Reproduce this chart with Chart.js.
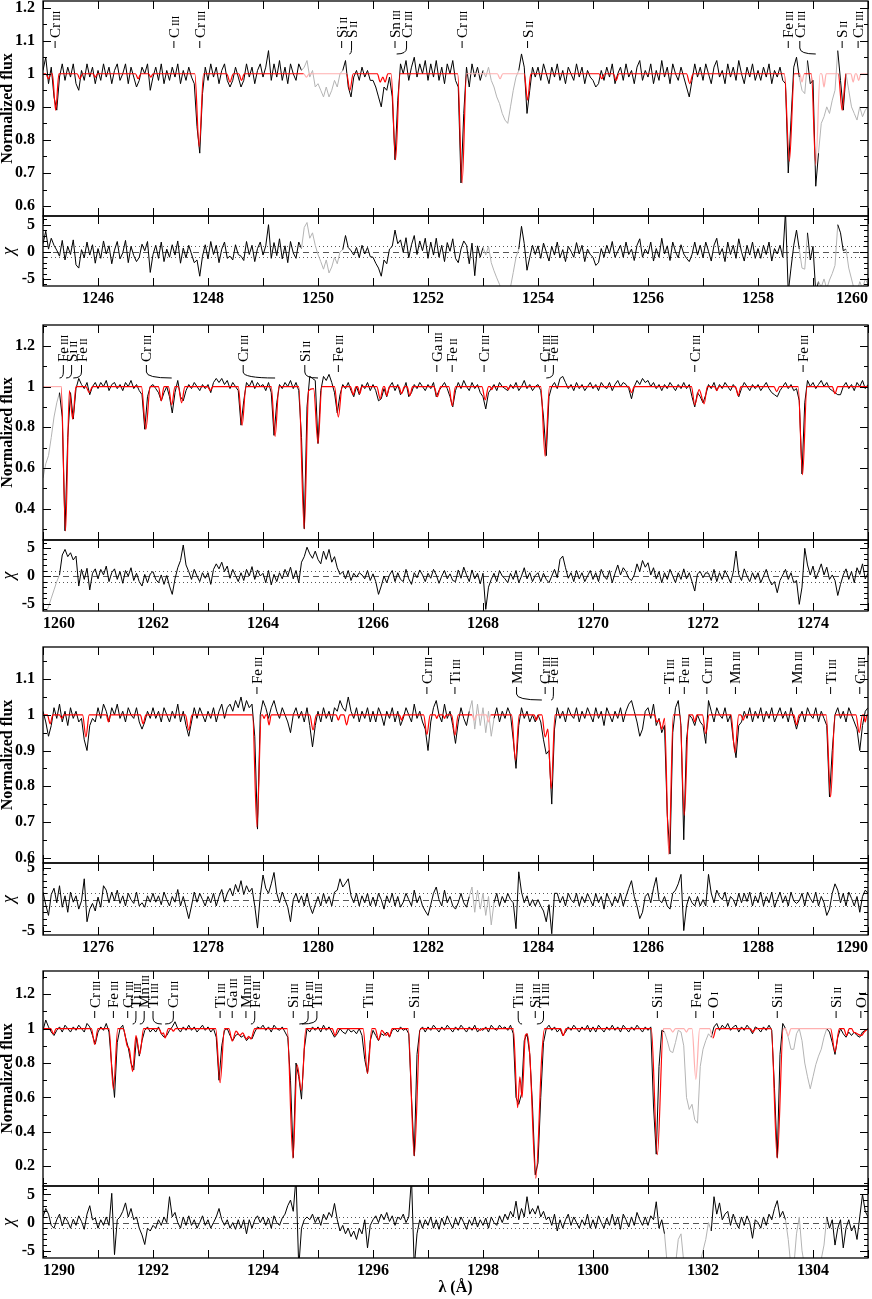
<!DOCTYPE html>
<html>
<head>
<meta charset="utf-8">
<script src="https://cdn.jsdelivr.net/npm/chart.js@4.4.1/dist/chart.umd.min.js"></script>
<style>
  html, body { margin: 0; padding: 0; background: #fff; }
  #page { position: relative; width: 872px; height: 1299px; overflow: hidden; background: #fff; }
  canvas { position: absolute; left: 0; }
</style>
</head>
<body>
<div id="page"></div>
<script>
// wavelength grid of the observed spectrum and residuals (Angstrom)
const gridStep = 0.05;

// ---------- panel 1 : 1245 - 1260 ----------
const p1Range = [1245, 1260];
const p1Flux = [
  1.01, 1.05, 0.97, 1.02, 0.93, 0.89, 0.99, 1.03, 0.98, 1.02, 0.99, 1.03, 0.97, 0.95, 1.01, 0.98, 1.03, 0.99, 1.02, 0.97,
  1.01, 0.98, 1.03, 0.99, 1.02, 0.97, 1.01, 1.03, 0.98, 1.00, 1.03, 0.97, 1.02, 0.99, 0.96, 0.98, 1.02, 1.00, 1.03, 0.95,
  0.99, 1.02, 0.98, 1.03, 0.97, 1.01, 0.98, 1.02, 0.99, 1.03, 0.97, 1.01, 0.98, 1.02, 0.99, 0.97, 0.84, 0.76, 0.94, 1.02,
  0.98, 1.03, 0.99, 1.02, 0.97, 1.01, 1.03, 0.98, 0.96, 0.98, 1.02, 0.99, 0.96, 0.98, 1.03, 0.99, 1.02, 0.97, 1.01, 1.03,
  0.99, 1.02, 1.07, 0.98, 1.03, 0.99, 1.04, 0.98, 1.02, 0.97, 1.03, 1.00, 0.98, 1.03, 1.01, 1.02, 1.04, 0.99, 1.01, 0.96,
  0.97, 0.95, 0.93, 0.96, 0.93, 0.95, 0.98, 0.96, 1.00, 1.01, 1.04, 0.96, 0.93, 0.99, 1.01, 0.98, 1.02, 0.99, 1.01, 0.98,
  0.98, 0.96, 0.93, 0.90, 0.96, 0.95, 0.99, 0.93, 0.74, 0.92, 1.03, 1.00, 1.04, 0.98, 1.02, 1.05, 0.99, 1.03, 1.00, 1.04,
  0.98, 1.03, 0.99, 1.04, 0.98, 1.02, 0.97, 1.03, 1.00, 1.04, 0.98, 0.96, 0.67, 0.88, 1.02, 0.96, 1.03, 0.99, 1.02, 0.98,
  1.01, 0.99, 1.02, 0.98, 0.96, 0.93, 0.91, 0.88, 0.86, 0.85, 0.90, 0.95, 0.99, 1.01, 1.06, 1.02, 0.88, 0.95, 1.02, 0.99,
  1.02, 0.98, 1.03, 1.00, 0.97, 1.02, 0.99, 1.03, 0.98, 1.01, 0.97, 1.02, 1.00, 0.98, 1.03, 0.99, 1.02, 0.97, 1.01, 0.99,
  0.98, 0.96, 0.97, 1.01, 0.98, 1.02, 0.99, 1.03, 0.97, 1.00, 1.02, 0.98, 1.03, 0.99, 1.01, 0.97, 1.02, 1.04, 0.98, 1.01,
  0.99, 1.03, 0.97, 1.01, 0.98, 1.04, 0.99, 1.02, 0.97, 1.03, 1.00, 0.98, 1.02, 0.99, 0.96, 0.93, 0.98, 1.03, 0.99, 1.02,
  0.98, 1.03, 1.00, 0.97, 1.02, 1.04, 0.99, 1.01, 0.97, 1.03, 0.99, 1.02, 0.98, 1.04, 1.00, 0.97, 1.02, 0.99, 1.03, 0.98,
  1.01, 0.98, 1.02, 0.99, 1.03, 0.97, 1.01, 0.99, 1.02, 0.98, 0.97, 0.70, 0.86, 1.02, 1.05, 0.99, 0.95, 0.94, 1.04, 0.97,
  0.98, 0.66, 0.76, 0.85, 0.87, 0.90, 0.88, 0.92, 0.95, 1.07, 0.98, 0.89, 1.00, 0.95, 0.90, 0.88, 0.86, 0.90, 0.87, 0.89,
  0.90
];
const p1Chi = [
  1.5, 3.8, 0.5, 2.5, 1.2, 0.3, -0.8, 2.1, -1.5, 1.0, -0.5, 2.2, -2.4, -3.0, 0.4, -1.1, 1.8, -0.6, 1.3, -2.1,
  0.6, -1.2, 2.0, -0.4, 1.1, -2.2, 0.3, 1.9, -1.3, -0.2, 2.1, -2.0, 1.0, -0.7, -1.8, -1.0, 1.4, 0.2, 1.9, -3.8,
  -0.5, 1.2, -1.2, 1.8, -1.8, 0.5, -1.0, 1.3, -0.6, 2.0, -2.1, 0.7, -1.1, 1.2, -0.4, -2.0, -1.5, -4.5, -0.8, 1.3,
  -1.3, 1.9, -0.5, 1.2, -2.0, 0.5, 1.8, -1.2, -0.8, -1.5, 1.3, -0.5, -0.8, -1.6, 1.9, -0.5, 1.2, -1.8, 0.6, 1.8,
  -0.6, 1.1, 5.0, -1.2, 1.7, -0.7, 2.4, -1.3, 1.1, -2.0, 1.9, -0.2, -1.2, 1.8, 0.6, 4.5, 5.4, 2.5, 3.5, 1.2,
  -0.5, -1.8, -3.2, -1.5, -3.9, -2.8, -1.0, -2.2, 0.0, 0.4, 3.0, 0.8, 0.2, -0.6, 0.8, -1.1, 1.2, -0.4, 0.8, -0.9,
  -1.0, -2.1, -3.0, -4.5, -1.5, -2.2, 0.5, 1.0, 4.0, 1.5, 2.2, -0.1, 2.6, -1.1, 1.3, 3.0, -0.5, 2.0, 0.2, 2.5,
  -1.2, 1.8, -0.6, 2.5, -1.0, 1.2, -1.8, 1.7, 0.1, 2.4, -1.2, -2.0, 0.5, 2.0, 1.2, -2.2, 1.6, -4.4, 1.1, -1.0,
  0.8, -0.6, 1.0, -2.0, -3.5, -4.8, -6.0, -7.5, -8.0, -8.2, -6.5, -3.8, -1.0, 0.5, 4.7, 1.5, -3.4, -1.0, 1.2, -0.5,
  1.1, -1.2, 1.6, 0.0, -1.7, 1.0, -0.6, 1.8, -1.1, 0.4, -1.8, 1.0, 0.1, -1.0, 1.7, -0.4, 1.2, -1.8, 0.5, -0.5,
  -1.0, -2.5, -2.0, 0.6, -1.0, 1.2, -0.3, 1.9, -1.0, 0.1, 1.2, -1.0, 1.8, -0.5, 0.5, -1.6, 1.2, 2.4, -1.0, 0.5,
  -0.4, 1.8, -1.7, 0.6, -1.0, 2.5, -0.4, 1.1, -1.6, 1.8, 0.0, -1.1, 1.3, -0.4, -1.2, -1.8, -0.5, 1.8, -0.6, 1.2,
  -1.1, 1.8, 0.1, -1.7, 1.2, 2.5, -0.6, 0.6, -1.8, 1.8, -0.5, 1.2, -1.2, 2.4, 0.0, -1.7, 1.2, -0.6, 1.8, -1.2,
  0.6, -1.2, 1.2, -0.5, 1.8, -1.7, 0.6, -0.4, 1.2, -1.0, 7.5, -7.5, -3.0, 1.2, 4.0, 0.5, -3.0, -3.2, 3.5, -1.5,
  1.0, -7.5, -5.5, -6.5, -5.0, -6.8, -5.2, -4.0, -2.5, 5.0, 3.5, 0.2, 0.5, -3.0, -5.0, -7.0, -7.5, -5.5, -6.8, -5.0,
  -6.0
];
const p1Model = [
  [1245, 1], [1245.05, 1], [1245.1, 0.985], [1245.15, 1], [1245.17, 1], [1245.23, 0.89], [1245.29, 1],
  [1245.62, 1], [1245.67, 0.985], [1245.72, 1], [1245.91, 1], [1245.95, 0.99], [1245.99, 1],
  [1246.68, 1], [1246.73, 0.985], [1246.78, 1], [1246.92, 1], [1246.96, 0.99], [1247, 1],
  [1247.76, 1], [1247.84, 0.78], [1247.92, 1],
  [1248.34, 1], [1248.4, 0.975], [1248.46, 1], [1248.56, 1], [1248.61, 0.98], [1248.66, 1],
  [1249.74, 1], [1249.79, 0.99], [1249.84, 1],
  [1250.52, 1], [1250.58, 0.95], [1250.64, 1],
  [1251.08, 1], [1251.13, 0.975], [1251.18, 0.99], [1251.22, 0.975], [1251.27, 1],
  [1251.33, 1], [1251.41, 0.74], [1251.49, 1],
  [1252.54, 1], [1252.62, 0.67], [1252.7, 1],
  [1253.26, 1], [1253.31, 0.985], [1253.36, 1],
  [1253.75, 1], [1253.81, 0.92], [1253.87, 1],
  [1255.11, 1], [1255.16, 0.985], [1255.21, 1], [1255.37, 1], [1255.42, 0.98], [1255.47, 1],
  [1256.7, 1], [1256.76, 0.97], [1256.82, 1],
  [1258.48, 1], [1258.57, 0.735], [1258.66, 1],
  [1258.76, 1], [1258.8, 0.975], [1258.84, 1],
  [1258.97, 1], [1259.05, 0.724], [1259.13, 1],
  [1259.16, 1], [1259.2, 0.96], [1259.24, 1],
  [1259.46, 1], [1259.53, 0.89], [1259.6, 1],
  [1259.69, 1], [1259.73, 0.975], [1259.77, 1], [1259.79, 1], [1259.83, 0.98], [1259.87, 1], [1260, 1]
];
const p1Masks = [[1249.72, 1250.44], [1252.98, 1253.66], [1258.77, 1258.88], [1259.08, 1259.43], [1259.62, 1260]];
const p1Ions = [
  [1245.22, "Cr", "III"], [1247.38, "C", "III"], [1247.85, "Cr", "III"],
  [1250.43, "Si", "II"], [1250.61, "S", "II", 1250.57],
  [1251.4, "Sn", "III"], [1251.61, "Cr", "III", 1251.43],
  [1252.62, "Cr", "III"], [1253.81, "S", "II"],
  [1258.55, "Fe", "III"], [1258.76, "Cr", "III", 1259.05],
  [1259.53, "S", "II"], [1259.82, "Cr", "III"]
];
const p1FluxTicks = [0.6, 0.7, 0.8, 0.9, 1, 1.1, 1.2];
const p1XLabels = [1246, 1248, 1250, 1252, 1254, 1256, 1258, 1260];

// ---------- panel 2 : 1260 - 1275 ----------
const p2Range = [1260, 1275];
const p2Flux = [
  0.55, 0.62, 0.66, 0.75, 0.85, 0.92, 0.97, 0.85, 0.29, 0.75, 0.97, 0.84, 0.99, 1.04, 1.01, 0.99, 1.02, 0.96, 1.00, 1.02,
  0.99, 1.02, 1.00, 1.03, 0.98, 1.01, 1.02, 0.99, 1.01, 0.98, 1.02, 1.00, 1.03, 0.99, 1.01, 0.98, 0.96, 0.79, 0.95, 1.00,
  1.01, 0.99, 0.97, 0.93, 0.97, 1.00, 0.95, 0.87, 0.97, 1.03, 0.95, 0.93, 0.98, 1.01, 0.99, 1.02, 1.00, 0.98, 1.01, 0.99,
  1.01, 0.97, 1.02, 1.04, 1.02, 1.04, 1.01, 1.03, 0.99, 1.02, 1.00, 0.98, 0.81, 0.93, 1.02, 1.00, 1.03, 0.99, 1.02, 1.00,
  1.01, 0.98, 1.02, 0.97, 0.76, 0.92, 1.01, 0.99, 1.02, 1.00, 1.03, 0.99, 1.02, 0.98, 0.75, 0.30, 0.90, 1.05, 1.04, 1.03,
  0.72, 0.98, 1.05, 1.03, 1.06, 1.02, 0.97, 0.87, 0.96, 1.01, 0.99, 1.02, 0.98, 0.95, 1.00, 0.96, 1.01, 0.99, 1.02, 0.98,
  1.01, 0.98, 0.93, 0.94, 0.99, 0.95, 1.00, 1.02, 0.98, 1.01, 0.96, 0.98, 1.02, 0.95, 0.97, 1.01, 0.99, 1.02, 1.00, 0.98,
  1.01, 0.99, 1.02, 0.95, 0.98, 1.00, 1.02, 0.99, 0.95, 0.90, 0.98, 1.02, 0.99, 1.03, 1.00, 0.98, 1.02, 0.99, 1.01, 0.97,
  0.95, 0.89, 0.97, 0.99, 1.01, 0.98, 1.02, 1.00, 0.99, 0.98, 1.01, 0.99, 1.02, 0.98, 1.00, 1.03, 0.99, 1.01, 0.98, 1.00,
  1.01, 0.98, 0.85, 0.66, 0.95, 1.00, 1.02, 0.99, 1.04, 1.05, 1.02, 0.99, 1.01, 0.98, 1.02, 0.99, 1.01, 0.98, 1.00, 1.02,
  0.99, 1.01, 0.98, 1.02, 1.00, 0.99, 1.02, 0.98, 1.01, 1.03, 1.00, 1.02, 1.01, 0.99, 0.94, 1.00, 1.03, 1.01, 1.04, 1.02,
  1.03, 1.00, 1.02, 0.99, 1.01, 0.98, 1.01, 0.99, 1.02, 1.00, 0.98, 1.01, 0.99, 1.02, 0.99, 1.01, 0.95, 0.90, 0.97, 0.95,
  0.92, 0.96, 1.01, 0.99, 1.02, 0.98, 1.01, 0.99, 1.02, 1.00, 0.98, 1.01, 0.99, 0.95, 0.99, 1.02, 1.00, 0.98, 1.01, 0.99,
  1.01, 0.98, 1.00, 1.02, 0.99, 0.97, 0.96, 0.95, 0.98, 1.00, 1.02, 0.99, 1.01, 0.98, 0.99, 0.93, 0.57, 0.92, 1.03, 1.00,
  1.02, 0.99, 1.01, 1.03, 1.00, 1.02, 0.99, 0.98, 0.97, 0.96, 0.96, 1.00, 1.02, 0.99, 1.01, 0.98, 1.02, 1.00, 1.03, 0.99,
  1.01
];
const p2Chi = [
  -7.5, -6.8, -5.5, -4.0, -2.5, -1.0, 0.2, 3.8, 4.8, 3.5, 4.2, 2.9, 3.6, -1.8, 1.2, -0.6, 1.4, -2.5, 0.5, 1.3,
  -0.5, 1.2, 0.2, 1.8, -1.0, 0.6, 1.3, -0.6, 0.8, -1.3, 1.0, 0.0, 1.5, -0.8, 0.5, -1.0, -1.8, 0.3, -1.2, 0.4,
  0.8, -0.6, -1.2, 0.2, -1.5, 0.1, -1.8, -3.3, -0.5, 1.5, 2.8, 5.6, 2.0, 0.8, -0.6, 1.2, 0.0, -1.0, 0.6, -0.4,
  0.6, -1.5, 1.2, 2.2, 1.3, 2.5, 0.8, 1.8, -0.4, 1.2, 0.1, -1.0, 0.6, -0.8, 1.2, 0.0, 1.7, -0.6, 1.1, 0.0,
  0.5, -1.2, 1.0, -1.6, 0.3, -1.0, 0.6, -0.5, 1.2, 0.0, 1.6, -0.5, 1.0, -1.2, 2.5, 3.5, 5.2, 4.0, 3.2, 4.5,
  3.0, 2.2, 4.5, 3.0, 4.8, 2.5, 3.5, 1.5, 0.3, 0.8, -0.5, 1.0, -0.8, 0.5, -0.2, 0.6, 0.2, -0.5, 1.0, -0.8,
  0.4, -1.0, -3.3, -1.8, 0.0, -1.2, 0.2, 1.0, -1.0, 0.6, -0.6, -1.0, 1.2, -0.5, -1.5, 0.6, -0.3, 1.1, 0.2, -1.0,
  0.5, -0.4, 1.2, 0.2, -1.3, 0.0, 1.0, -0.5, 0.4, -0.8, -1.0, 1.1, -0.4, 1.6, 0.2, -1.0, 1.1, -0.5, 0.5, -1.4,
  0.5, -6.0, -2.0, -0.6, 0.5, -1.0, 1.0, 0.0, -0.5, -1.2, 0.5, -0.6, 1.0, -1.2, 0.0, 1.5, -0.5, 0.6, -1.0, 0.1,
  0.6, -1.0, 0.5, -0.6, -1.2, 0.0, 1.2, -0.3, 3.0, 3.6, 1.5, -0.4, 0.6, -1.0, 1.0, -0.5, 0.6, -1.0, 0.0, 1.0,
  -0.6, 0.6, -1.0, 1.2, 0.0, -0.6, 1.0, -1.2, 0.5, 2.0, 0.2, 1.5, 0.8, -0.4, -0.8, 0.2, 2.2, 0.8, 2.8, 1.6,
  2.4, 0.2, 1.5, -0.5, 0.8, -1.2, 0.6, -0.6, 1.2, 0.0, -1.2, 0.6, -0.6, 1.3, -0.5, 0.6, -1.0, -2.7, 0.4, 0.8,
  -0.3, 0.6, 0.5, -0.8, 1.2, -1.0, 0.6, -0.6, 1.0, 0.0, -1.2, 0.7, 4.5, 0.3, -0.8, 1.3, 0.0, -1.0, 0.6, -0.6,
  0.6, -1.2, 0.0, 1.2, -0.5, -1.6, -1.0, -3.0, -0.8, 0.2, 1.2, -0.6, 0.6, -1.2, -0.8, -5.1, -2.0, 5.0, 2.0, 0.2,
  1.8, -0.5, 0.8, 2.2, 0.2, 1.6, -0.6, 0.2, -0.8, -3.5, -1.5, 0.2, 1.3, -0.6, 0.8, -1.2, 1.5, 0.3, 2.2, -0.5,
  0.5
];
const p2Model = [
  [1260, 1], [1260.33, 1], [1260.41, 0.29], [1260.48, 0.98], [1260.54, 0.84], [1260.6, 1],
  [1260.78, 1], [1260.84, 0.97], [1260.9, 1],
  [1261.79, 1], [1261.87, 0.79], [1261.95, 1],
  [1262.1, 1], [1262.15, 0.93], [1262.2, 1], [1262.28, 1], [1262.34, 0.91], [1262.4, 1],
  [1262.46, 1], [1262.52, 0.92], [1262.58, 1],
  [1262.99, 1], [1263.04, 0.98], [1263.09, 1],
  [1263.55, 1], [1263.62, 0.81], [1263.69, 1],
  [1264.15, 1], [1264.22, 0.755], [1264.29, 1],
  [1264.65, 1], [1264.75, 0.3], [1264.83, 0.98], [1264.92, 0.99], [1265, 0.72], [1265.07, 1],
  [1265.3, 1], [1265.37, 0.85], [1265.44, 1],
  [1265.59, 1], [1265.64, 0.96], [1265.69, 1], [1265.72, 1], [1265.76, 0.965], [1265.8, 1],
  [1266.07, 1], [1266.13, 0.94], [1266.19, 1], [1266.21, 1], [1266.25, 0.955], [1266.3, 1],
  [1266.47, 1], [1266.52, 0.965], [1266.57, 1], [1266.62, 1], [1266.67, 0.955], [1266.72, 1],
  [1267.11, 1], [1267.17, 0.95], [1267.23, 1],
  [1267.38, 1], [1267.44, 0.905], [1267.5, 1],
  [1267.98, 1], [1268.04, 0.935], [1268.1, 1],
  [1268.13, 1], [1268.16, 0.985], [1268.19, 1], [1268.43, 1], [1268.46, 0.985], [1268.49, 1],
  [1269.05, 1], [1269.13, 0.657], [1269.21, 1],
  [1270.65, 1], [1270.7, 0.97], [1270.75, 1],
  [1271.79, 1], [1271.85, 0.91], [1271.93, 0.985], [1272.02, 0.915], [1272.08, 1],
  [1272.21, 1], [1272.25, 0.98], [1272.29, 1],
  [1272.59, 1], [1272.64, 0.955], [1272.69, 1],
  [1273.29, 1], [1273.34, 0.975], [1273.39, 1],
  [1273.73, 1], [1273.81, 0.566], [1273.89, 1],
  [1274.35, 1], [1274.4, 0.965], [1274.45, 1], [1275, 1]
];
const p2Masks = [[1260, 1260.28]];
const p2Ions = [
  [1260.37, "Fe", "III", 1260.3], [1260.52, "Si", "II", 1260.42], [1260.7, "Fe", "II", 1260.55],
  [1261.88, "Cr", "III", 1262.34], [1263.64, "Cr", "III", 1264.22],
  [1264.76, "Si", "II", 1265.0], [1265.37, "Fe", "III"],
  [1267.16, "Ga", "III"], [1267.44, "Fe", "II"], [1268.02, "Cr", "III"],
  [1269.13, "Cr", "III"], [1269.28, "Fe", "III", 1269.15],
  [1271.85, "Cr", "III"], [1273.82, "Fe", "III"]
];
const p2FluxTicks = [0.4, 0.6, 0.8, 1, 1.2];
const p2XLabels = [1260, 1262, 1264, 1266, 1268, 1270, 1272, 1274];

// ---------- panel 3 : 1275 - 1290 ----------
const p3Range = [1275, 1290];
const p3Flux = [
  1.01, 0.98, 0.94, 0.97, 1.02, 0.99, 1.03, 0.98, 1.01, 0.97, 1.02, 0.99, 1.01, 0.98, 0.99, 0.93, 0.90, 0.97, 0.99, 0.98,
  1.02, 0.99, 1.03, 1.01, 0.98, 1.02, 1.00, 1.03, 0.99, 1.01, 0.98, 1.02, 1.00, 0.99, 1.02, 0.98, 0.96, 0.98, 1.01, 0.99,
  1.02, 0.99, 1.01, 0.98, 1.02, 1.00, 0.98, 1.01, 0.99, 1.03, 0.98, 1.01, 0.97, 0.94, 0.98, 1.02, 0.99, 1.02, 1.00, 0.98,
  1.01, 0.99, 1.02, 0.98, 1.01, 1.03, 0.99, 1.02, 1.03, 1.01, 1.04, 1.02, 1.05, 1.01, 1.04, 1.02, 1.03, 0.94, 0.68, 1.00,
  1.04, 1.02, 0.99, 1.02, 1.04, 1.01, 0.99, 1.02, 1.00, 0.98, 0.95, 1.00, 1.02, 0.99, 1.01, 0.98, 1.02, 0.97, 0.91, 0.97,
  1.01, 0.98, 1.02, 0.99, 1.01, 0.98, 1.02, 1.01, 1.04, 1.02, 1.01, 1.05, 1.01, 0.99, 1.02, 0.98, 1.01, 0.99, 1.02, 0.98,
  1.01, 0.98, 1.02, 1.00, 0.97, 1.01, 0.99, 1.02, 0.98, 1.01, 0.97, 0.99, 1.02, 1.00, 0.98, 1.03, 0.99, 1.01, 0.98, 0.96,
  0.90, 0.98, 1.02, 1.04, 1.00, 0.98, 1.03, 0.99, 1.01, 0.97, 0.92, 0.98, 1.02, 0.99, 0.97, 1.01, 1.04, 0.96, 1.03, 0.97,
  1.02, 0.95, 1.01, 0.94, 0.99, 1.02, 0.98, 1.01, 0.99, 1.02, 1.00, 0.93, 0.85, 0.97, 1.02, 0.99, 1.01, 0.98, 1.00, 0.98,
  1.00, 0.98, 0.93, 0.89, 0.90, 0.75, 0.96, 1.02, 0.99, 1.01, 0.98, 1.02, 1.00, 0.99, 1.02, 0.98, 1.01, 0.99, 1.02, 1.00,
  0.98, 1.02, 0.99, 1.01, 0.97, 1.02, 1.00, 0.98, 1.01, 0.99, 1.02, 0.98, 1.01, 1.03, 1.04, 1.01, 0.98, 0.94, 0.96, 1.01,
  1.02, 0.99, 1.03, 0.97, 0.99, 0.95, 0.97, 0.72, 0.61, 0.95, 1.02, 1.04, 0.97, 0.65, 0.93, 1.00, 0.99, 0.97, 1.00, 0.98,
  0.97, 0.92, 1.04, 1.01, 0.98, 1.02, 1.00, 0.99, 1.02, 0.98, 1.00, 0.93, 0.88, 0.97, 0.98, 1.01, 0.99, 1.02, 0.98, 1.01,
  0.99, 1.02, 0.98, 1.01, 0.99, 1.02, 0.98, 1.00, 1.02, 0.99, 1.01, 0.98, 1.02, 0.99, 0.96, 0.99, 1.01, 0.98, 1.02, 1.00,
  0.99, 1.02, 0.98, 1.01, 0.99, 0.97, 0.77, 0.90, 1.00, 1.02, 0.99, 1.01, 0.98, 1.02, 1.00, 0.98, 0.96, 0.90, 0.97, 1.01,
  1.02
];
const p3Chi = [
  1.2, -0.8, -2.5, 0.8, 1.8, -0.5, 2.2, -1.2, 0.6, -2.0, 1.2, -0.4, 0.6, -1.5, -0.2, 3.3, -3.5, -1.5, -0.6, -1.8,
  0.4, -1.2, 2.2, 1.5, -0.5, 1.2, -0.2, 1.5, -0.6, 0.6, -1.0, 1.0, 0.0, -0.6, 1.2, -1.0, -0.5, -1.2, 0.6, -0.4,
  1.0, -0.4, 0.6, -0.8, 1.2, 0.0, -1.0, 0.5, -0.4, 1.6, -1.0, 0.5, -1.2, -3.0, -1.0, 1.2, -0.4, 1.0, 0.0, -1.0,
  0.5, -0.5, 1.0, -1.0, 0.5, 1.6, -0.4, 1.0, 1.8, 0.6, 2.4, 1.2, 3.0, 0.8, 2.2, 1.2, 1.8, -1.0, -4.5, 0.6,
  3.9, 1.8, 1.0, 2.5, 4.3, 1.0, -0.5, 1.2, 0.0, -1.2, -3.5, 0.0, 1.0, -0.5, 0.6, -1.0, 1.0, -1.0, -2.2, -0.8,
  0.5, -1.0, 1.0, -0.6, 0.5, -1.0, 1.2, 1.5, 3.3, 2.0, 2.6, 3.3, 0.6, -0.5, 1.0, -1.0, 0.6, -0.5, 1.0, -1.0,
  0.4, -1.0, 1.0, 0.0, -1.5, 0.6, -0.5, 1.0, -1.0, 0.5, -1.2, -0.4, 1.0, 0.0, -1.0, 1.5, -0.5, 0.6, -1.0, -1.8,
  -2.5, -0.8, 1.0, 2.0, 0.0, -1.0, 1.5, -0.5, 0.5, -1.0, -1.5, -0.5, 1.0, -0.5, -1.2, 0.5, 2.0, -2.0, 1.5, -1.5,
  1.0, -2.5, 0.5, -4.0, -0.5, 1.0, -1.0, 0.5, -0.5, 1.0, 0.0, -0.5, -4.6, 4.4, 1.2, -0.5, 0.6, -1.0, 0.0, -1.0,
  0.0, -1.0, -1.8, -3.5, -0.8, -5.4, 1.0, 1.0, -0.5, 0.5, -1.0, 1.0, 0.0, -0.5, 1.0, -1.0, 0.5, -0.5, 1.0, 0.0,
  -1.0, 1.0, -0.5, 0.5, -1.5, 1.0, 0.0, -1.0, 0.5, -0.5, 1.0, -1.0, 0.5, 1.8, 3.0, 0.5, -1.0, -3.0, -2.0, 0.5,
  1.0, -0.5, 1.8, 3.5, 0.0, -0.5, 0.5, -1.0, -1.5, 1.0, 1.5, 2.5, 4.0, -4.9, -1.0, 0.5, -0.5, -1.0, 0.5, -1.0,
  0.0, -1.0, 4.0, 1.0, -0.5, 1.5, 0.5, 0.0, 1.2, -1.0, 0.5, 0.0, -1.0, 1.0, -0.5, 1.0, -0.3, 1.2, -1.0, 0.6,
  -0.5, 1.2, -1.0, 0.5, -0.5, 1.2, -1.2, 0.0, 1.2, -0.5, 0.6, -1.0, 1.2, -0.2, -0.6, -0.2, 1.0, -1.0, 1.2, 0.2,
  -0.5, 1.2, -1.0, 0.5, -0.5, -2.5, -1.5, 1.0, 2.5, 1.5, -0.5, 1.0, -1.0, 1.2, 0.2, -1.0, 0.5, -2.0, 0.5, 1.5,
  1.0
];
const p3Model = [
  [1275, 1], [1275.08, 1], [1275.13, 0.975], [1275.18, 1], [1275.3, 1], [1275.34, 0.99], [1275.38, 1],
  [1275.72, 1], [1275.78, 0.938], [1275.84, 1],
  [1276.15, 1], [1276.19, 0.98], [1276.23, 1],
  [1276.77, 1], [1276.82, 0.975], [1276.87, 1],
  [1277.59, 1], [1277.65, 0.957], [1277.71, 1],
  [1278.81, 1], [1278.89, 0.686], [1278.97, 1],
  [1278.99, 1], [1279.02, 0.99], [1279.05, 1], [1279.07, 1], [1279.11, 0.972], [1279.15, 1],
  [1279.85, 1], [1279.91, 0.958], [1279.97, 1],
  [1280.33, 1], [1280.37, 0.985], [1280.41, 1], [1280.47, 1], [1280.52, 0.972], [1280.57, 1],
  [1281.48, 1], [1281.52, 0.985], [1281.56, 1],
  [1281.92, 1], [1281.98, 0.945], [1282.04, 1],
  [1282.13, 1], [1282.16, 0.99], [1282.19, 1], [1282.27, 1], [1282.3, 0.99], [1282.33, 1],
  [1282.43, 1], [1282.49, 0.943], [1282.55, 1],
  [1282.8, 1], [1282.84, 0.985], [1282.88, 1], [1283.06, 1], [1283.1, 0.98], [1283.14, 1],
  [1283.52, 1], [1283.59, 0.873], [1283.66, 1],
  [1283.93, 1], [1283.97, 0.985], [1284.01, 1],
  [1284.07, 1], [1284.13, 0.938], [1284.18, 0.96], [1284.24, 0.793], [1284.31, 1],
  [1286.12, 1], [1286.16, 0.98], [1286.2, 0.985], [1286.25, 0.96], [1286.3, 0.99], [1286.38, 0.61], [1286.46, 1],
  [1286.58, 1], [1286.66, 0.718], [1286.74, 1],
  [1286.81, 1], [1286.85, 0.98], [1286.89, 1],
  [1286.99, 1], [1287.05, 0.947], [1287.11, 1],
  [1287.51, 1], [1287.58, 0.895], [1287.65, 1],
  [1287.69, 1], [1287.73, 0.985], [1287.77, 1],
  [1288.65, 1], [1288.7, 0.972], [1288.75, 1],
  [1289.24, 1], [1289.32, 0.77], [1289.4, 1],
  [1289.78, 1], [1289.84, 0.95], [1289.9, 1], [1289.92, 1], [1289.95, 0.98], [1289.98, 1], [1290, 1]
];
const p3Masks = [[1282.73, 1283.22]];
const p3Ions = [
  [1278.89, "Fe", "III"], [1281.98, "Cr", "III"], [1282.49, "Ti", "III"],
  [1283.61, "Mn", "III", 1284.07], [1284.13, "Cr", "III"], [1284.28, "Fe", "III", 1284.24],
  [1286.39, "Ti", "III"], [1286.66, "Fe", "III"], [1287.07, "Cr", "III"], [1287.59, "Mn", "III"],
  [1288.7, "Mn", "III"], [1289.32, "Ti", "III"], [1289.85, "Cr", "III"]
];
const p3FluxTicks = [0.6, 0.7, 0.8, 0.9, 1, 1.1];
const p3XLabels = [1276, 1278, 1280, 1282, 1284, 1286, 1288, 1290];

// ---------- panel 4 : 1290 - 1305 ----------
const p4Range = [1290, 1305];
const p4Flux = [
  0.99, 1.05, 1.01, 0.98, 0.96, 0.99, 1.01, 0.98, 1.02, 1.00, 0.98, 1.01, 0.99, 1.02, 1.00, 0.98, 1.03, 1.01, 0.96, 0.91,
  0.98, 1.01, 0.99, 1.03, 0.98, 0.78, 0.60, 0.92, 1.00, 1.02, 0.95, 0.89, 0.80, 0.76, 0.95, 0.84, 0.93, 0.99, 1.01, 0.98,
  1.00, 0.98, 1.01, 0.97, 0.95, 0.96, 0.99, 1.01, 1.04, 1.00, 0.98, 1.01, 0.99, 1.02, 0.99, 1.01, 0.98, 1.00, 1.02, 0.99,
  1.01, 0.98, 1.00, 0.95, 0.70, 0.90, 0.99, 1.00, 0.96, 0.93, 0.96, 0.97, 0.95, 0.96, 0.93, 0.95, 0.94, 0.98, 1.01, 1.00,
  1.02, 0.99, 1.01, 0.98, 1.02, 1.00, 0.99, 1.01, 0.98, 0.95, 0.70, 0.25, 0.80, 0.72, 0.59, 0.88, 1.00, 0.98, 1.01, 0.99,
  1.01, 0.98, 1.02, 0.99, 1.01, 0.98, 0.95, 0.97, 1.00, 0.98, 0.97, 1.00, 0.98, 0.99, 0.97, 1.00, 0.96, 0.82, 0.74, 0.93,
  0.99, 0.96, 0.93, 0.97, 0.96, 0.98, 0.95, 0.99, 1.00, 0.98, 1.01, 0.99, 1.00, 0.97, 0.60, 0.26, 0.85, 0.99, 1.01, 0.98,
  1.01, 0.99, 1.02, 1.00, 0.98, 1.01, 0.99, 1.02, 1.00, 0.98, 1.01, 0.99, 1.02, 1.00, 0.98, 1.01, 0.99, 1.02, 0.98, 1.00,
  0.99, 1.01, 0.98, 1.02, 1.00, 0.99, 1.02, 1.00, 1.01, 0.99, 1.02, 0.97, 0.60, 0.56, 0.62, 0.93, 0.97, 0.85, 0.55, 0.15,
  0.22, 0.60, 0.92, 1.00, 1.02, 0.99, 1.01, 0.98, 1.00, 0.96, 0.98, 1.01, 0.99, 1.02, 1.00, 0.98, 1.01, 0.99, 1.02, 0.98,
  1.01, 0.98, 1.02, 1.00, 0.98, 1.01, 0.99, 1.02, 0.99, 1.01, 0.98, 1.02, 1.00, 0.98, 1.01, 0.99, 1.02, 1.00, 0.98, 1.01,
  0.99, 1.01, 0.55, 0.27, 0.78, 0.99, 0.98, 0.93, 0.87, 0.86, 0.92, 0.99, 0.98, 0.90, 0.60, 0.53, 0.56, 0.47, 0.45, 0.78,
  0.88, 0.93, 0.97, 0.95, 1.01, 1.03, 0.99, 1.02, 1.00, 1.03, 0.99, 1.01, 1.02, 0.98, 1.01, 0.99, 1.02, 1.00, 0.97, 1.01,
  1.00, 0.98, 1.01, 0.99, 1.02, 0.99, 0.65, 0.25, 0.85, 1.03, 1.00, 0.95, 0.88, 0.88, 0.97, 1.00, 0.93, 0.80, 0.72, 0.65,
  0.72, 0.79, 0.84, 0.88, 0.95, 1.00, 0.98, 0.92, 0.85, 0.95, 1.00, 0.97, 0.95, 0.98, 0.96, 0.98, 0.96, 0.95, 0.98, 0.99,
  1.00
];
const p4Chi = [
  1.0, 2.5, 1.5, -0.5, -1.0, 0.5, 1.5, -0.6, 1.0, 0.2, -1.0, 0.6, -0.5, 1.2, 0.2, -1.2, 1.5, 3.0, 0.5, 0.8,
  -1.0, 0.5, -0.5, 1.0, -0.5, 5.2, -5.7, 0.5, 1.0, 2.0, 3.5, 1.0, 2.5, 0.5, 1.0, -1.0, -2.2, -3.9, -1.0, -1.5,
  -0.5, -1.0, 0.5, -0.5, 1.0, 0.0, 4.6, 1.0, 1.8, 0.0, -1.0, 1.0, -0.5, 1.2, -0.5, 0.5, -1.0, 0.0, 1.2, -0.5,
  0.5, -1.0, 0.0, 1.0, 2.5, 0.5, -0.5, 0.5, -1.0, 0.0, -1.2, 0.5, -1.0, 0.5, -2.0, 0.5, -1.0, 0.5, 1.2, 0.0,
  1.0, -0.5, 0.8, -1.0, 1.2, 0.0, -0.5, 0.8, 1.5, 3.0, 4.0, 2.0, 8.0, -8.0, -1.0, 0.5, 1.0, 0.5, 1.5, 0.0,
  1.0, -0.5, 1.5, 0.5, 1.8, 1.0, 3.4, 0.5, -1.5, -0.5, -2.0, -1.0, -2.5, -1.5, -3.0, -1.0, -2.0, 0.5, -4.5, -0.5,
  0.5, 1.2, 0.0, 1.5, 0.5, 1.8, 0.2, 1.2, -0.5, 1.0, 0.5, 1.5, 0.0, 1.0, 8.0, -8.0, -2.0, 0.5, -1.0, 0.5,
  -0.5, 1.0, -1.0, 0.5, -1.2, 0.8, -0.5, 1.2, 0.0, -1.0, 0.8, -0.5, 1.0, 0.0, -1.2, 0.5, -0.5, 1.0, -0.8, 0.5,
  -0.5, 0.8, -1.0, 1.0, 0.0, -0.5, 1.2, 0.0, 1.5, 0.5, 2.0, 1.0, 3.8, 0.5, 2.5, 1.0, 4.6, 1.5, 2.5, 1.5,
  3.0, 1.0, 2.0, 0.5, 1.0, -0.5, 1.5, -1.5, 0.5, -1.0, 0.5, 1.5, -0.5, 1.0, 0.0, -1.0, 0.5, -0.5, 1.5, -1.0,
  0.5, -1.0, 1.2, 0.0, -1.0, 0.8, -0.5, 1.5, -0.5, 1.0, -1.2, 1.5, 0.5, -0.8, 1.0, -0.5, 1.8, 0.5, -0.5, 1.0,
  -0.5, 1.2, 0.5, 3.7, -1.0, 0.5, -2.0, -7.5, -8.0, -8.0, -7.5, -3.0, -2.0, -7.0, -8.0, -8.0, -8.0, -8.0, -8.0, -7.0,
  -5.0, -3.0, 0.0, -1.5, 4.6, 1.5, 3.5, 0.5, 1.5, 2.0, -0.5, 1.5, 0.0, -1.0, 1.0, -0.5, 1.2, 0.0, -2.8, 0.5,
  0.0, -1.0, 1.0, -0.5, 1.5, 0.5, 2.5, 3.9, 1.0, 2.0, 0.5, -3.0, -8.0, -8.0, -2.0, 1.0, -5.0, -8.0, -8.0, -8.0,
  -8.0, -8.0, -7.5, -6.5, -4.0, 1.0, -1.0, 0.5, -4.0, -1.0, 0.5, -4.5, -1.0, 0.5, -1.5, -0.5, -3.0, 1.0, 5.0, 2.0,
  1.0
];
const p4Model = [
  [1290, 1], [1290.14, 1], [1290.19, 0.97], [1290.24, 1],
  [1290.88, 1], [1290.94, 0.908], [1291, 1],
  [1291.2, 1], [1291.28, 0.647], [1291.36, 1],
  [1291.46, 1], [1291.53, 0.9], [1291.57, 0.88], [1291.63, 0.75], [1291.69, 0.96], [1291.76, 0.852], [1291.83, 1],
  [1292.11, 1], [1292.16, 0.97], [1292.19, 0.975], [1292.22, 0.946], [1292.28, 1],
  [1292.33, 1], [1292.37, 0.985], [1292.41, 1],
  [1293.14, 1], [1293.22, 0.686], [1293.3, 1],
  [1293.38, 1], [1293.44, 0.927], [1293.51, 0.985], [1293.58, 0.96], [1293.63, 0.975], [1293.7, 0.94],
  [1293.74, 0.955], [1293.78, 0.94], [1293.85, 1],
  [1294.44, 1], [1294.545, 0.245], [1294.62, 0.79], [1294.7, 0.64], [1294.78, 1],
  [1295.26, 1], [1295.31, 0.96], [1295.36, 1],
  [1295.82, 1], [1295.9, 0.74], [1295.98, 1],
  [1296.04, 1], [1296.1, 0.935], [1296.16, 0.99], [1296.2, 0.975], [1296.24, 0.96], [1296.27, 0.975],
  [1296.3, 0.955], [1296.35, 1],
  [1296.64, 1], [1296.75, 0.26], [1296.86, 1],
  [1297.91, 1], [1297.95, 0.99], [1297.99, 1],
  [1298.55, 1], [1298.63, 0.54], [1298.67, 0.72], [1298.71, 0.6], [1298.77, 0.96], [1298.8, 0.97],
  [1298.85, 0.85], [1298.96, 0.13], [1299.07, 0.85], [1299.12, 1],
  [1299.41, 1], [1299.46, 0.96], [1299.51, 1],
  [1301.06, 1], [1301.17, 0.267], [1301.28, 1],
  [1301.4, 1], [1301.45, 0.98], [1301.5, 1], [1301.65, 1], [1301.7, 0.98], [1301.74, 1],
  [1301.8, 1], [1301.87, 0.705], [1301.94, 1],
  [1302.12, 1], [1302.18, 0.945], [1302.24, 1],
  [1302.86, 1], [1302.91, 0.98], [1302.96, 1],
  [1303.24, 1], [1303.35, 0.247], [1303.46, 1],
  [1303.5, 1], [1303.55, 0.96], [1303.6, 1],
  [1304.32, 1], [1304.4, 0.865], [1304.48, 1],
  [1304.56, 1], [1304.61, 0.96], [1304.66, 1], [1304.7, 1], [1304.74, 0.98], [1304.78, 0.975],
  [1304.83, 0.965], [1304.88, 0.96], [1304.93, 0.98], [1305, 1]
];
const p4Masks = [[1301.28, 1302.17], [1303.48, 1304.24]];
const p4Ions = [
  [1290.94, "Cr", "III"], [1291.28, "Fe", "III"],
  [1291.54, "Cr", "III"], [1291.69, "Ti", "III", 1291.63], [1291.84, "Mn", "III", 1291.76],
  [1292.0, "Ti", "III", 1292.16], [1292.37, "Cr", "III", 1292.22],
  [1293.22, "Ti", "III"], [1293.44, "Ga", "III"], [1293.69, "Mn", "III"], [1293.85, "Fe", "III", 1293.78],
  [1294.55, "Si", "III"], [1294.82, "Fe", "III", 1294.66], [1294.98, "Ti", "III", 1294.71],
  [1295.9, "Ti", "III"], [1296.75, "Si", "III"],
  [1298.64, "Ti", "III", 1298.71], [1298.95, "Si", "III"], [1299.1, "Ti", "III", 1298.98],
  [1301.17, "Si", "III"], [1301.87, "Fe", "III"], [1302.19, "O", "I"],
  [1303.35, "Si", "III"], [1304.42, "Si", "II"], [1304.87, "O", "I"]
];
const p4FluxTicks = [0.2, 0.4, 0.6, 0.8, 1, 1.2];
const p4XLabels = [1290, 1292, 1294, 1296, 1298, 1300, 1302, 1304];

const chiTicks = [-5, 0, 5];

// ---------- layout of the four panels ----------
const panels = [
  { range: p1Range, flux: p1Flux, chi: p1Chi, model: p1Model, masks: p1Masks, ions: p1Ions,
    fluxTicks: p1FluxTicks, xLabels: p1XLabels, top: 1, split: 216, bottom: 286,
    fluxMin: 0.57, fluxMax: 1.22, major: 0.1, minor: 0.05, chiMin: -6.3, chiMax: 6.6 },
  { range: p2Range, flux: p2Flux, chi: p2Chi, model: p2Model, masks: p2Masks, ions: p2Ions,
    fluxTicks: p2FluxTicks, xLabels: p2XLabels, top: 325, split: 540, bottom: 611,
    fluxMin: 0.245, fluxMax: 1.303, major: 0.2, minor: 0.1, chiMin: -6.3, chiMax: 6.5 },
  { range: p3Range, flux: p3Flux, chi: p3Chi, model: p3Model, masks: p3Masks, ions: p3Ions,
    fluxTicks: p3FluxTicks, xLabels: p3XLabels, top: 647, split: 863, bottom: 935,
    fluxMin: 0.585, fluxMax: 1.19, major: 0.1, minor: 0.05, chiMin: -5.6, chiMax: 5.8 },
  { range: p4Range, flux: p4Flux, chi: p4Chi, model: p4Model, masks: p4Masks, ions: p4Ions,
    fluxTicks: p4FluxTicks, xLabels: p4XLabels, top: 971, split: 1186, bottom: 1258,
    fluxMin: 0.085, fluxMax: 1.335, major: 0.2, minor: 0.1, chiMin: -6.3, chiMax: 6.5 }
];

const serif = "'Liberation Serif', 'Times New Roman', serif";
const tickFont = { family: serif, size: 16, weight: "bold" };

const toPoints = (start, values) =>
  values.map((v, i) => ({ x: +(start + i * gridStep).toFixed(2), y: v }));

const inMask = (masks, x) => masks.some(([a, b]) => x >= a && x <= b);

const segColor = (masks, color) => (ctx) =>
  inMask(masks, (ctx.p0.parsed.x + ctx.p1.parsed.x) / 2) ? color : undefined;

const noPadding = (s) => {
  s.paddingTop = 0;
  s.paddingBottom = 0;
  s.paddingLeft = 0;
  s.paddingRight = 0;
};

const drawIons = (chart, ions) => {
  const { ctx, chartArea: area, scales: { x } } = chart;
  const base = area.top + 47;
  ctx.save();
  ctx.strokeStyle = "#000";
  ctx.fillStyle = "#000";
  ctx.lineWidth = 1;
  ions.forEach(([lam, el, ion, target]) => {
    const px = x.getPixelForValue(lam);
    ctx.beginPath();
    ctx.moveTo(px, base);
    ctx.lineTo(px, base - 7);
    if (target !== undefined) {
      const pt = x.getPixelForValue(target);
      ctx.moveTo(px, base);
      ctx.quadraticCurveTo(px, base + 6, pt, base + 6);
    }
    ctx.stroke();
    ctx.save();
    ctx.translate(px, base - 10);
    ctx.rotate(-Math.PI / 2);
    ctx.textAlign = "left";
    ctx.textBaseline = "alphabetic";
    ctx.font = "15px " + serif;
    ctx.fillText(el, 0, 5);
    const w = ctx.measureText(el).width;
    ctx.font = "10px " + serif;
    ctx.fillText(ion, w + 2, 5);
    ctx.restore();
  });
  ctx.restore();
};

// frame with inward ticks on all four sides, chi reference lines, line labels
const makeFrame = (cfg) => ({
  id: "frame",
  beforeDatasetsDraw(chart) {
    if (!cfg.chiLines) return;
    const { ctx, chartArea: area, scales: { y } } = chart;
    ctx.save();
    ctx.strokeStyle = "#555";
    ctx.lineWidth = 1;
    [[1, [1, 3]], [-1, [1, 3]], [0, [6, 4]]].forEach(([v, dash]) => {
      const py = Math.round(y.getPixelForValue(v)) + 0.5;
      ctx.setLineDash(dash);
      ctx.beginPath();
      ctx.moveTo(area.left, py);
      ctx.lineTo(area.right, py);
      ctx.stroke();
    });
    ctx.restore();
  },
  afterDraw(chart) {
    const { ctx, chartArea: area, scales: { x, y } } = chart;
    ctx.save();
    ctx.strokeStyle = "#000";
    ctx.lineWidth = 1.3;
    ctx.strokeRect(area.left, area.top, area.right - area.left, area.bottom - area.top);
    ctx.lineWidth = 1;
    ctx.beginPath();
    for (let v = Math.ceil(x.min); v <= x.max; v++) {
      const px = Math.round(x.getPixelForValue(v)) + 0.5;
      ctx.moveTo(px, area.top);
      ctx.lineTo(px, area.top + 8);
      ctx.moveTo(px, area.bottom);
      ctx.lineTo(px, area.bottom - 8);
    }
    const n0 = Math.ceil(y.min / cfg.minor - 1e-6);
    const n1 = Math.floor(y.max / cfg.minor + 1e-6);
    for (let n = n0; n <= n1; n++) {
      const v = n * cfg.minor;
      const r = v / cfg.major;
      const len = Math.abs(r - Math.round(r)) < 1e-6 ? 8 : 4;
      const py = Math.round(y.getPixelForValue(v)) + 0.5;
      ctx.moveTo(area.left, py);
      ctx.lineTo(area.left + len, py);
      ctx.moveTo(area.right, py);
      ctx.lineTo(area.right - len, py);
    }
    ctx.stroke();
    ctx.restore();
    if (cfg.ions) drawIons(chart, cfg.ions);
  }
});

const makeCanvas = (top, height) => {
  const c = document.createElement("canvas");
  c.width = 872;
  c.height = height;
  c.style.top = top + "px";
  document.getElementById("page").appendChild(c);
  return c;
};

const baseOptions = () => ({
  responsive: false,
  animation: false,
  devicePixelRatio: 1,
  events: [],
  plugins: { legend: { display: false }, tooltip: { enabled: false } }
});

const yAxis = (min, max, ticks, title) => ({
  min: min,
  max: max,
  afterFit: (s) => { s.width = 43; noPadding(s); },
  afterBuildTicks: (s) => { s.ticks = ticks.map((v) => ({ value: v })); },
  grid: { display: false, drawTicks: false },
  border: { display: false },
  ticks: { color: "#000", font: tickFont, padding: 8, callback: (v) => String(+(+v).toFixed(2)) },
  title: title
});

const buildPanel = (p, isLast) => {
  const [xMin, xMax] = p.range;

  const mainCanvas = makeCanvas(p.top - 4, p.split - p.top + 8);
  new Chart(mainCanvas, {
    type: "line",
    data: {
      datasets: [
        {
          data: p.model.map(([x, y]) => ({ x, y })),
          borderColor: "#ff0000",
          borderWidth: 1.2,
          pointRadius: 0,
          cubicInterpolationMode: "monotone",
          order: 0,
          segment: { borderColor: segColor(p.masks, "#ffb0b0") }
        },
        {
          data: toPoints(xMin, p.flux),
          borderColor: "#000",
          borderWidth: 1,
          pointRadius: 0,
          tension: 0,
          order: 1,
          segment: { borderColor: segColor(p.masks, "#b4b4b4") }
        }
      ]
    },
    options: {
      ...baseOptions(),
      layout: { autoPadding: false, padding: { top: 4, bottom: 4, left: 0, right: 4 } },
      scales: {
        x: { type: "linear", min: xMin, max: xMax, display: false },
        y: yAxis(p.fluxMin, p.fluxMax, p.fluxTicks, {
          display: true,
          text: "Normalized flux",
          color: "#000",
          font: { family: serif, size: 16, weight: "bold", lineHeight: 1 },
          padding: 0
        })
      }
    },
    plugins: [makeFrame({ major: p.major, minor: p.minor, ions: p.ions })]
  });

  const axisH = isLast ? 41 : 30;
  const chiCanvas = makeCanvas(p.split - 4, p.bottom - p.split + 4 + axisH);
  new Chart(chiCanvas, {
    type: "line",
    data: {
      datasets: [
        {
          data: toPoints(xMin, p.chi),
          borderColor: "#000",
          borderWidth: 1,
          pointRadius: 0,
          tension: 0,
          segment: { borderColor: segColor(p.masks, "#b4b4b4") }
        }
      ]
    },
    options: {
      ...baseOptions(),
      layout: { autoPadding: false, padding: { top: 4, bottom: 0, left: 0, right: 4 } },
      scales: {
        x: {
          type: "linear",
          min: xMin,
          max: xMax,
          afterFit: (s) => { s.height = axisH; noPadding(s); },
          afterBuildTicks: (s) => {
            const t = [];
            for (let v = xMin; v <= xMax; v++) t.push({ value: v });
            s.ticks = t;
          },
          grid: { display: false, drawTicks: false },
          border: { display: false },
          ticks: {
            color: "#000",
            font: tickFont,
            padding: 3,
            autoSkip: false,
            maxRotation: 0,
            minRotation: 0,
            align: "inner",
            callback: (v) => (p.xLabels.includes(v) ? String(v) : "")
          },
          title: {
            display: isLast,
            text: "λ (Å)",
            color: "#000",
            font: { family: serif, size: 16, weight: "bold" },
            padding: { top: 0, bottom: 2 }
          }
        },
        y: yAxis(p.chiMin, p.chiMax, chiTicks, {
          display: true,
          text: "χ",
          color: "#000",
          font: { family: serif, size: 18, style: "italic", lineHeight: 1 },
          padding: 0
        })
      }
    },
    plugins: [makeFrame({ major: 5, minor: 1, chiLines: true })]
  });
};

panels.forEach((p, i) => buildPanel(p, i === panels.length - 1));
</script>
</body>
</html>
